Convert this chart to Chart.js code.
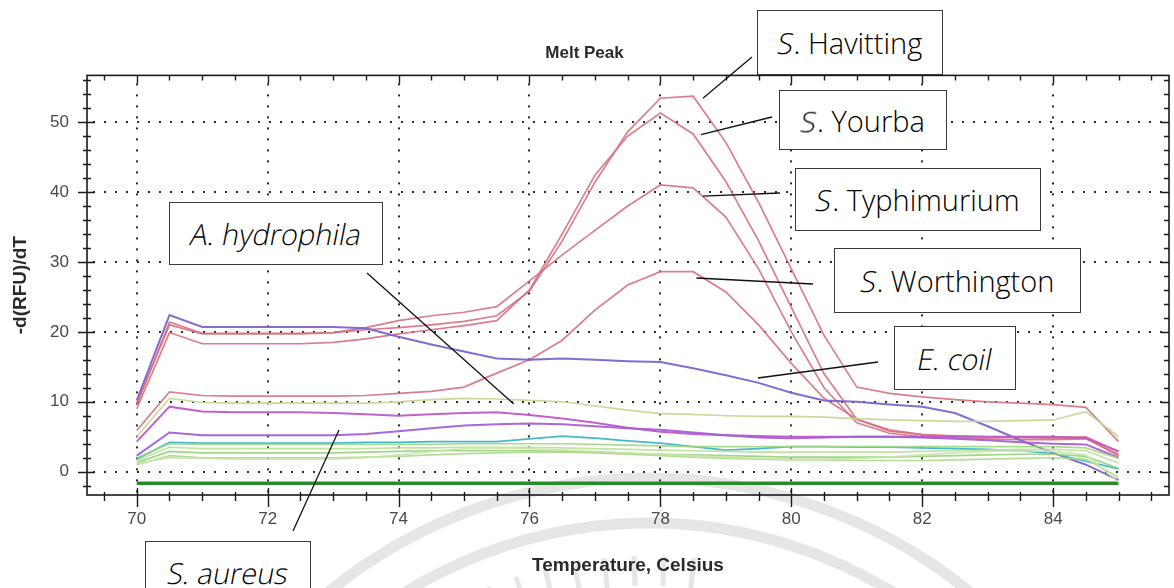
<!DOCTYPE html>
<html>
<head>
<meta charset="utf-8">
<title>Melt Peak</title>
<script src="https://cdn.jsdelivr.net/npm/chart.js@4.4.1/dist/chart.umd.min.js"></script>
<style>
  html, body { margin: 0; padding: 0; background: #fff; overflow: hidden; }
  #wrap { position: relative; width: 1174px; height: 588px; overflow: hidden; }
  canvas { position: absolute; left: 0; top: 0; }
  .tag {
    position: absolute; box-sizing: border-box; background: #fff;
    border: 1.5px solid #3a3a3a; color: #000;
    font-family: "Open Sans", "Noto Sans", sans-serif; font-weight: 300; font-size: 29px;
    display: flex; align-items: center; justify-content: center; white-space: pre;
  }
  .obl { display: inline-block; transform: skewX(-11deg); }
</style>
</head>
<body>
<div id="wrap">
  <canvas id="c" width="1174" height="588"></canvas>
</div>
<script>
// Temperature steps of the melt run (°C)
const temps = [70, 70.5, 71, 71.5, 72, 72.5, 73, 73.5, 74, 74.5, 75, 75.5, 76, 76.5, 77, 77.5,
               78, 78.5, 79, 79.5, 80, 80.5, 81, 81.5, 82, 82.5, 83, 83.5, 84, 84.5, 85];

// -d(RFU)/dT per well
const havitting   = [9.5, 21.4, 19.8, 19.8, 19.8, 19.8, 19.9, 20.3, 20.6, 21.0, 21.5, 22.3, 25.8, 33.0, 41.4, 48.6, 53.4, 53.7, 47.1, 38.5, 29.0, 19.5, 12.1, 11.2, 10.7, 10.3, 10.0, 9.8, 9.6, 9.2, 4.3];
const yourba      = [9.0, 19.9, 18.3, 18.3, 18.3, 18.3, 18.5, 19.0, 19.7, 20.3, 20.9, 21.6, 26.0, 34.0, 42.4, 48.0, 51.3, 48.3, 41.5, 33.0, 23.5, 14.0, 7.5, 5.8, 5.3, 5.1, 5.0, 4.9, 4.8, 4.8, 2.3];
const typhimurium = [9.8, 21.0, 19.7, 19.7, 19.7, 19.7, 19.9, 20.6, 21.6, 22.3, 22.8, 23.6, 27.3, 31.0, 34.5, 38.0, 41.0, 40.6, 36.4, 29.0, 20.0, 12.0, 7.0, 5.5, 5.0, 4.8, 4.7, 4.6, 4.6, 4.7, 2.5];
const worthington = [5.9, 11.4, 10.9, 10.8, 10.8, 10.8, 10.8, 10.9, 11.2, 11.5, 12.1, 14.1, 16.0, 18.8, 23.1, 26.7, 28.6, 28.6, 25.7, 21.0, 15.5, 10.5, 7.5, 6.0, 5.3, 5.1, 5.0, 4.9, 4.9, 5.0, 2.9];
const eColi       = [10.2, 22.4, 20.7, 20.7, 20.7, 20.7, 20.7, 20.5, 19.3, 18.2, 17.2, 16.2, 16.0, 16.2, 16.0, 15.8, 15.7, 14.8, 13.8, 12.7, 11.3, 10.2, 10.0, 9.6, 9.3, 8.4, 6.5, 4.5, 2.7, 1.0, -1.2];
const hydrophila  = [5.0, 10.5, 9.9, 9.8, 9.8, 9.8, 9.8, 9.8, 10.0, 10.3, 10.5, 10.4, 10.2, 10.0, 9.4, 8.8, 8.3, 8.2, 8.0, 7.9, 7.9, 7.8, 7.6, 7.4, 7.3, 7.2, 7.2, 7.3, 7.4, 8.6, 5.0];
const magenta     = [4.3, 9.3, 8.6, 8.5, 8.5, 8.5, 8.4, 8.2, 8.0, 8.2, 8.4, 8.5, 8.1, 7.6, 7.0, 6.3, 5.7, 5.4, 5.2, 5.1, 5.0, 5.0, 5.0, 5.0, 5.0, 5.0, 5.0, 5.0, 5.0, 4.8, 2.9];
const aureus      = [2.3, 5.6, 5.2, 5.2, 5.2, 5.2, 5.2, 5.4, 5.8, 6.2, 6.6, 6.8, 6.9, 6.8, 6.5, 6.2, 6.0, 5.6, 5.2, 4.9, 4.8, 4.9, 5.0, 5.0, 4.9, 4.7, 4.5, 4.2, 4.0, 3.9, 2.0];
const cyan        = [1.8, 4.2, 4.1, 4.1, 4.1, 4.1, 4.1, 4.2, 4.2, 4.3, 4.3, 4.3, 4.7, 5.1, 4.8, 4.4, 4.1, 3.6, 3.1, 3.3, 3.6, 3.6, 3.5, 3.5, 3.4, 3.3, 3.2, 3.0, 2.6, 1.5, 0.4];
const green1      = [2.0, 4.0, 3.9, 3.9, 3.9, 3.9, 3.9, 3.9, 3.9, 3.9, 4.0, 4.0, 4.0, 4.0, 3.9, 3.8, 3.7, 3.6, 3.6, 3.6, 3.6, 3.6, 3.6, 3.6, 3.6, 3.6, 3.6, 3.6, 3.6, 3.4, 1.9];
const green2      = [1.6, 3.5, 3.3, 3.3, 3.3, 3.3, 3.3, 3.3, 3.4, 3.4, 3.5, 3.5, 3.5, 3.4, 3.3, 3.2, 3.1, 3.0, 2.9, 2.8, 2.8, 2.8, 2.8, 2.8, 2.9, 3.0, 3.1, 3.2, 3.2, 3.0, 1.2];
const green3      = [1.3, 2.9, 2.7, 2.7, 2.7, 2.7, 2.7, 2.8, 2.9, 3.0, 3.0, 3.0, 3.0, 2.9, 2.8, 2.6, 2.5, 2.4, 2.3, 2.2, 2.1, 2.1, 2.1, 2.1, 2.2, 2.3, 2.4, 2.5, 2.5, 2.2, 0.5];
const green4      = [1.0, 2.3, 2.0, 2.0, 2.0, 2.0, 2.0, 2.1, 2.2, 2.4, 2.6, 2.7, 2.8, 2.8, 2.7, 2.5, 2.3, 2.1, 1.9, 1.8, 1.7, 1.7, 1.6, 1.6, 1.6, 1.7, 1.8, 1.9, 2.0, 1.8, -0.8];
const green5      = [1.2, 2.0, 1.9, 1.8, 1.8, 1.8, 1.8, 2.0, 2.4, 2.9, 3.3, 3.4, 3.3, 3.1, 2.9, 2.7, 2.5, 2.3, 2.1, 1.9, 1.8, 1.8, 1.9, 2.1, 2.4, 2.7, 2.9, 3.0, 2.9, 2.4, -1.5];
const baseline    = [-1.65, -1.65, -1.65, -1.65, -1.65, -1.65, -1.65, -1.65, -1.65, -1.65, -1.65, -1.65, -1.65, -1.65, -1.65, -1.65,
                     -1.65, -1.65, -1.65, -1.65, -1.65, -1.65, -1.65, -1.65, -1.65, -1.65, -1.65, -1.65, -1.65, -1.65, -1.65];

// Axis ticks
const xMajorTicks = [70, 72, 74, 76, 78, 80, 82, 84];
const yMajorTicks = [0, 10, 20, 30, 40, 50];

// Callout labels: box in page pixels, pointer end in data units
const callouts = [
  { html: '<span class="obl">S</span>. Havitting',   box: [757, 10, 186, 65],  from: [752, 57],  to: { x: 78.65, y: 53.4 } },
  { html: '<span class="obl">S</span>. Yourba',      box: [779, 90, 168, 60],  from: [772, 117], to: { x: 78.62, y: 48.2 } },
  { html: '<span class="obl">S</span>. Typhimurium', box: [795, 168, 246, 63], from: [780, 193], to: { x: 78.65, y: 39.4 } },
  { html: '<span class="obl">S</span>. Worthington', box: [834, 248, 247, 65], from: [813, 284], to: { x: 78.55, y: 27.7 } },
  { html: '<span class="obl">E. coil</span>',        box: [894, 326, 122, 64], from: [878, 362], to: { x: 79.49, y: 13.4 } },
  { html: '<span class="obl">A. hydrophila</span>',  box: [169, 202, 214, 63], from: [367, 273], to: { x: 75.76, y: 9.67 } },
  { html: '<span class="obl">S. aureus</span>',      box: [145, 541, 166, 62], from: [293, 531], to: { x: 73.09, y: 5.96 } }
];

const pts = arr => arr.map((v, i) => ({ x: temps[i], y: v }));
const line = (data, color, width) => ({
  data: pts(data), borderColor: color, borderWidth: width || 1.7,
  pointRadius: 0, tension: 0, fill: false
});

// Faint seal printed behind the page
const seal = {
  id: 'seal',
  beforeDraw(chart) {
    const ctx = chart.ctx;
    const cx = 649, cy = 986;
    ctx.save();
    ctx.strokeStyle = 'rgba(200,200,200,0.45)';
    ctx.lineWidth = 11;
    ctx.beginPath(); ctx.arc(cx, cy, 508, Math.PI * 1.1, Math.PI * 1.9); ctx.stroke();
    ctx.beginPath(); ctx.arc(cx, cy, 463, Math.PI * 1.1, Math.PI * 1.9); ctx.stroke();
    ctx.lineWidth = 5;
    ctx.beginPath();
    for (let deg = -112; deg <= -84; deg += 4) {
      const r = deg * Math.PI / 180;
      ctx.moveTo(cx + 400 * Math.cos(r), cy + 400 * Math.sin(r));
      ctx.lineTo(cx + 430 * Math.cos(r), cy + 430 * Math.sin(r));
    }
    ctx.stroke();
    ctx.restore();
  }
};

// Dotted grid, boxed frame and tick marks on all four sides
const frame = {
  id: 'frame',
  beforeDatasetsDraw(chart) {
    const { ctx, chartArea: a, scales: { x, y } } = chart;
    ctx.save();
    ctx.fillStyle = '#2a2a2a';
    xMajorTicks.forEach(v => {
      const px = Math.round(x.getPixelForValue(v));
      for (let py = a.top + 8; py < a.bottom - 2; py += 11) ctx.fillRect(px - 1, py, 2, 2);
    });
    yMajorTicks.forEach(v => {
      const py = Math.round(y.getPixelForValue(v));
      for (let px = a.left + 6; px < a.right - 2; px += 11) ctx.fillRect(px, py - 1, 2, 2);
    });
    ctx.restore();
  },
  afterDatasetsDraw(chart) {
    const { ctx, chartArea: a, scales: { x, y } } = chart;
    ctx.save();
    ctx.strokeStyle = '#1a1a1a';
    ctx.lineWidth = 1.6;
    ctx.strokeRect(a.left, a.top, a.right - a.left, a.bottom - a.top);
    ctx.lineWidth = 1.4;
    ctx.beginPath();
    for (let v = 69.5; v <= 85.5; v += 0.5) {
      const px = Math.round(x.getPixelForValue(v)) + 0.5;
      const major = xMajorTicks.includes(v);
      ctx.moveTo(px, a.bottom - (major ? 7 : 3)); ctx.lineTo(px, a.bottom + (major ? 12 : 6));
      ctx.moveTo(px, a.top); ctx.lineTo(px, a.top + (major ? 8 : 5));
    }
    for (let v = -2; v <= 56; v += 2) {
      const py = Math.round(y.getPixelForValue(v)) + 0.5;
      const major = yMajorTicks.includes(v);
      ctx.moveTo(a.left - (major ? 9 : 4), py); ctx.lineTo(a.left + (major ? 8 : 4), py);
      ctx.moveTo(a.right, py); ctx.lineTo(a.right - (major ? 8 : 5), py);
    }
    ctx.stroke();
    // callout pointers
    ctx.strokeStyle = '#111';
    ctx.lineWidth = 1.3;
    callouts.forEach(c => {
      ctx.beginPath();
      ctx.moveTo(c.from[0], c.from[1]);
      ctx.lineTo(x.getPixelForValue(c.to.x), y.getPixelForValue(c.to.y));
      ctx.stroke();
    });
    ctx.restore();
  }
};

const FONT = 'Liberation Sans, Arial, sans-serif';
const PINK = 'rgba(214,112,128,0.9)';
new Chart(document.getElementById('c'), {
  type: 'line',
  data: {
    datasets: [
      line(green5, 'rgba(200,228,170,0.9)'),
      line(green4, 'rgba(170,220,140,0.9)'),
      line(green3, 'rgba(150,210,120,0.9)'),
      line(green2, 'rgba(185,225,150,0.9)'),
      line(green1, 'rgba(160,215,130,0.9)'),
      line(cyan, 'rgba(60,180,200,0.95)'),
      line(aureus, 'rgba(165,95,215,0.95)', 2),
      line(magenta, 'rgba(190,90,200,0.95)', 2),
      line(hydrophila, 'rgba(200,215,150,0.95)'),
      line(eColi, 'rgba(125,100,205,0.95)', 2),
      line(worthington, PINK),
      line(typhimurium, PINK),
      line(yourba, PINK),
      line(havitting, PINK),
      line(baseline, '#2b8a2b', 3.5)
    ]
  },
  options: {
    responsive: false,
    animation: false,
    devicePixelRatio: 1,
    layout: { padding: { left: 0, right: 5, top: 0, bottom: 0 } },
    plugins: {
      legend: { display: false },
      tooltip: { enabled: false },
      title: {
        display: true, text: 'Melt Peak', color: '#2a2a2a',
        font: { family: FONT, size: 17, weight: 'bold' },
        padding: { top: 43, bottom: 12 }
      }
    },
    scales: {
      x: {
        type: 'linear', min: 69.24, max: 85.77,
        afterFit: s => { s.height = 93; },
        afterBuildTicks: s => { s.ticks = xMajorTicks.map(v => ({ value: v })); },
        grid: { display: false, drawTicks: false }, border: { display: false },
        ticks: { padding: 14, color: '#4a4a4a', font: { family: FONT, size: 17 } },
        title: {
          display: true, text: 'Temperature, Celsius', color: '#2a2a2a',
          font: { family: FONT, size: 19, weight: 'bold' },
          padding: { top: 0, bottom: 11 }
        }
      },
      y: {
        type: 'linear', min: -3.33, max: 56.67,
        afterFit: s => { s.width = 87; },
        afterBuildTicks: s => { s.ticks = yMajorTicks.map(v => ({ value: v })); },
        grid: { display: false, drawTicks: false }, border: { display: false },
        ticks: { padding: 18, color: '#4a4a4a', font: { family: FONT, size: 17 } },
        title: {
          display: true, text: '-d(RFU)/dT', color: '#2a2a2a',
          font: { family: FONT, size: 19, weight: 'bold' },
          padding: { top: 9, bottom: 0 }
        }
      }
    }
  },
  plugins: [seal, frame]
});

// Label boxes
const wrap = document.getElementById('wrap');
callouts.forEach(c => {
  const d = document.createElement('div');
  d.className = 'tag';
  d.innerHTML = c.html;
  d.style.left = c.box[0] + 'px';
  d.style.top = c.box[1] + 'px';
  d.style.width = c.box[2] + 'px';
  d.style.height = c.box[3] + 'px';
  wrap.appendChild(d);
});
</script>
</body>
</html>
